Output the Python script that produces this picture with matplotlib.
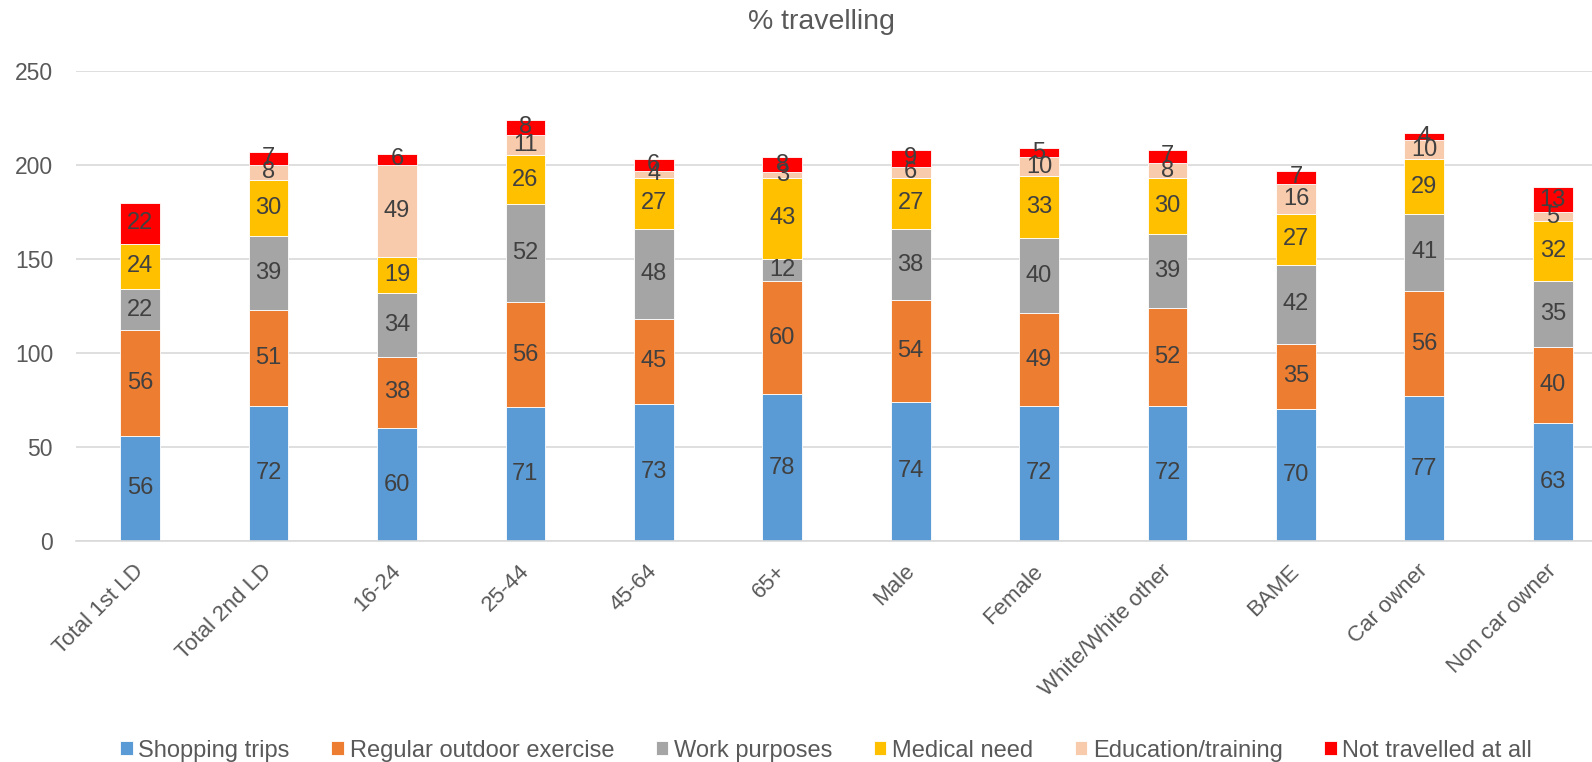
import matplotlib
matplotlib.use("Agg")
import matplotlib.pyplot as plt
from matplotlib.transforms import ScaledTranslation
import numpy as np

plt.rcParams["font.family"] = ["Liberation Sans", "DejaVu Sans"]

groups = ["Total 1st LD", "Total 2nd LD", "16-24", "25-44", "45-64", "65+",
          "Male", "Female", "White/White other", "BAME", "Car owner", "Non car owner"]

shopping  = [56, 72, 60, 71, 73, 78, 74, 72, 72, 70, 77, 63]
exercise  = [56, 51, 38, 56, 45, 60, 54, 49, 52, 35, 56, 40]
work      = [22, 39, 34, 52, 48, 12, 38, 40, 39, 42, 41, 35]
medical   = [24, 30, 19, 26, 27, 43, 27, 33, 30, 27, 29, 32]
education = [0, 8, 49, 11, 4, 3, 6, 10, 8, 16, 10, 5]
not_trav  = [22, 7, 6, 8, 6, 8, 9, 5, 7, 7, 4, 13]

series = [
    ("Shopping trips", shopping, "#5B9BD5"),
    ("Regular outdoor exercise", exercise, "#ED7D31"),
    ("Work purposes", work, "#A5A5A5"),
    ("Medical need", medical, "#FFC000"),
    ("Education/training", education, "#F8CBAD"),
    ("Not travelled at all", not_trav, "#FF0000"),
]

txt = "#404040"
grey_txt = "#595959"
fig = plt.figure(figsize=(15.92, 7.62), dpi=100)
# plot area runs slightly past the right edge, as in the original
ax = fig.add_axes([0.0477, 0.290, 0.968, 0.617])

x = np.arange(len(groups))
bottom = np.zeros(len(groups))
for name, vals, col in series:
    vals = np.array(vals, dtype=float)
    ax.bar(x, vals, 0.31, bottom=bottom, color=col, label=name,
           edgecolor="white", linewidth=0.6, zorder=2)
    for xi, b, v in zip(x, bottom, vals):
        if v > 0:
            ax.text(xi, b + v / 2, f"{int(v)}", ha="center", va="center",
                    fontsize=17, color=txt, zorder=3)
    bottom += vals

ax.set_ylim(0, 250)
ax.set_xlim(-0.5, len(groups) - 0.5)
ax.set_yticks(range(0, 251, 50))
ax.yaxis.grid(True, color="#D9D9D9", linewidth=1.2, zorder=0)
ax.set_axisbelow(True)
for s in ["top", "right", "left"]:
    ax.spines[s].set_visible(False)
ax.spines["bottom"].set_color("#D9D9D9")
ax.spines["bottom"].set_linewidth(1.2)
ax.tick_params(axis="x", length=0, colors=grey_txt, labelsize=16, pad=12)
ax.tick_params(axis="y", length=0, colors=grey_txt, labelsize=16.5, pad=16.5)
ax.set_xticks(x)
ax.set_xticklabels(groups, rotation=45, ha="right", rotation_mode="anchor")
shift = ScaledTranslation(-0.07, -0.03, fig.dpi_scale_trans)
for lab in ax.get_xticklabels():
    lab.set_transform(lab.get_transform() + shift)

fig.text(0.516, 1 - 22 / 762, "% travelling", ha="center", va="center",
         fontsize=20.5, color=grey_txt)
fig.legend(loc="center", ncol=6, bbox_to_anchor=(0.519, 0.015),
           frameon=False, fontsize=17, handlelength=0.53, handleheight=0.53,
           handletextpad=0.24, columnspacing=1.76, labelcolor=grey_txt)

fig.savefig("out.png", dpi=100)
